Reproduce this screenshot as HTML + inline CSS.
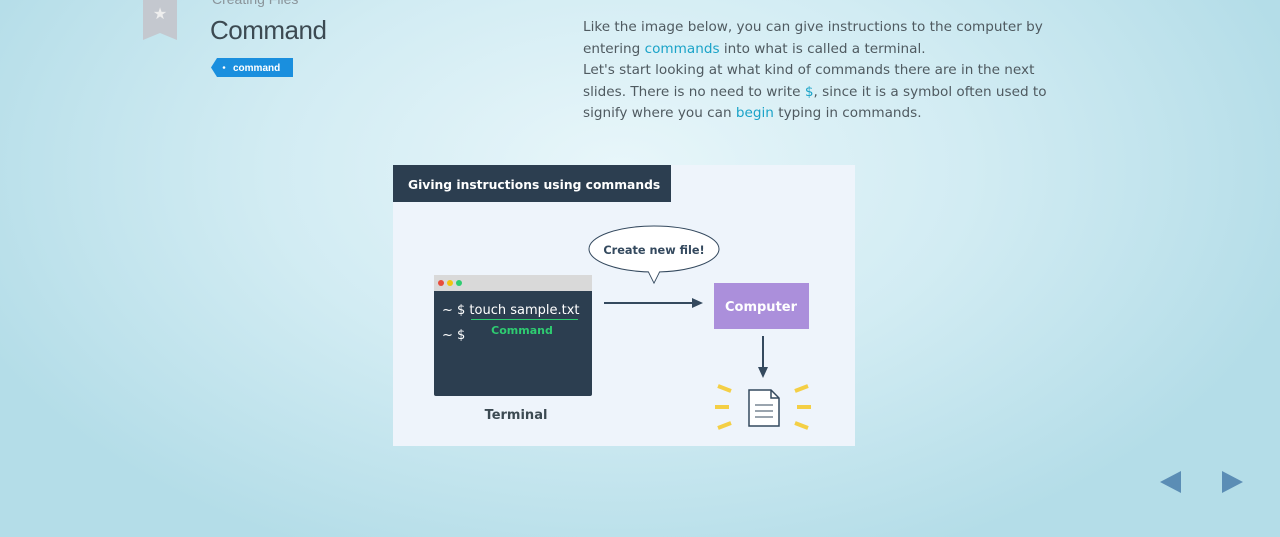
<!DOCTYPE html>
<html><head><meta charset="utf-8"><style>
body{margin:0;width:1280px;height:537px;overflow:hidden;position:relative;font-family:"Liberation Sans","DejaVu Sans",sans-serif;
background:radial-gradient(ellipse 700px 420px at 620px 170px,#e8f6fa 0%,#d2ecf3 50%,#b4dde8 100%);}
.abs{position:absolute}
p.t{position:absolute;left:583px;top:17px;margin:0;width:480px;line-height:21.5px;color:#4f5a60;letter-spacing:0;font-family:"DejaVu Sans",sans-serif;font-size:13.6px}
p.t b{font-weight:normal;color:#1aa3c8}
</style></head><body>
<svg class="abs" style="left:143px;top:0" width="36" height="42"><path d="M0 0H34V40L17 33L0 40Z" fill="#c4c8cf"/><text x="17" y="19" font-size="16" fill="#eee" text-anchor="middle">★</text></svg>
<div class="abs" style="left:212px;top:-9px;font-size:14px;color:#8a949a">Creating Files</div>
<div class="abs" style="left:210px;top:15px;font-size:26px;color:#3c4a52;letter-spacing:-0.5px">Command</div>
<svg class="abs" style="left:211px;top:58px" width="83" height="20"><path d="M6 0H82V19H6L0 9.5Z" fill="#1a8fde"/><circle cx="13" cy="9.5" r="1.3" fill="#fff"/><text x="22" y="13" font-size="10" fill="#fff" font-weight="bold">command</text></svg>
<p class="t">Like the image below, you can give instructions to the computer by entering <b>commands</b> into what is called a terminal.<br>Let's start looking at what kind of commands there are in the next slides. There is no need to write <b>$</b>, since it is a symbol often used to signify where you can <b>begin</b> typing in commands.</p>
<svg class="abs" style="left:0;top:0" width="1280" height="537">
<rect x="393" y="165" width="462" height="281" fill="#eef4fb"/>
<rect x="393" y="165" width="278" height="37" fill="#2c3e50"/>
<text x="408" y="189" font-size="12.3" font-weight="bold" fill="#fff" font-family="DejaVu Sans">Giving instructions using commands</text>
<rect x="434" y="275" width="158" height="121" rx="2" fill="#2c3e50"/>
<rect x="434" y="275" width="158" height="16" fill="#d9d9d9"/>
<circle cx="441" cy="283" r="3" fill="#e74c3c"/><circle cx="450" cy="283" r="3" fill="#f1c40f"/><circle cx="459" cy="283" r="3" fill="#2ecc71"/>
<text x="442" y="314" font-size="13" fill="#fff" font-family="DejaVu Sans">~ $ touch sample.txt</text>
<line x1="471" y1="319.5" x2="578" y2="319.5" stroke="#2ecc71" stroke-width="1"/>
<text x="522" y="334" font-size="11" font-weight="bold" fill="#2ecc71" text-anchor="middle" font-family="DejaVu Sans">Command</text>
<text x="442" y="339" font-size="13" fill="#fff" font-family="DejaVu Sans">~ $</text>
<text x="516" y="419" font-size="13" font-weight="bold" fill="#3c4a52" text-anchor="middle" font-family="DejaVu Sans">Terminal</text>
<line x1="604" y1="303" x2="696" y2="303" stroke="#34495e" stroke-width="2"/><path d="M703 303L692 298V308Z" fill="#34495e"/>
<path d="M648 271 L654 283 L660 271" fill="#fff" stroke="#34495e"/>
<ellipse cx="654" cy="249" rx="65" ry="23" fill="#fff" stroke="#34495e"/>
<path d="M648.5 271 L654 282 L659.5 271Z" fill="#fff"/>
<text x="654" y="254" font-size="11.3" font-weight="bold" fill="#34495e" text-anchor="middle" font-family="DejaVu Sans">Create new file!</text>
<rect x="714" y="283" width="95" height="46" fill="#ab8fdb"/>
<text x="761" y="311" font-size="13" font-weight="bold" fill="#fff" text-anchor="middle" font-family="DejaVu Sans">Computer</text>
<line x1="763" y1="336" x2="763" y2="370" stroke="#34495e" stroke-width="2"/><path d="M763 378L758 367H768Z" fill="#34495e"/>
<path d="M749 390H771L779 398V426H749Z" fill="#fff" stroke="#34495e" stroke-width="1.5"/>
<path d="M771 390V398H779" fill="none" stroke="#34495e" stroke-width="1.5"/>
<path d="M755 405H773M755 411H773M755 417H773" stroke="#34495e"/>
<g stroke="#f4cf45" stroke-width="4"><path d="M718 386L731 391M715 407H729M718 428L731 423M808 386L795 391M811 407H797M808 428L795 423"/></g>
<path d="M1160 482L1181 471V493Z" fill="#5b8db5"/><path d="M1243 482L1222 471V493Z" fill="#5b8db5"/>
</svg>
</body></html>
